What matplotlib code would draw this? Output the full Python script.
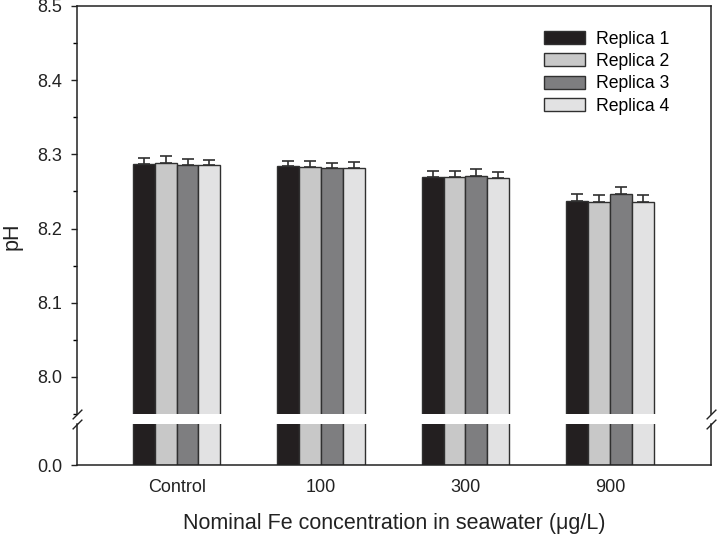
import numpy as np
import matplotlib.pyplot as plt

plt.rcParams['font.family'] = ['Liberation Sans', 'DejaVu Sans']

# Data
categories = ['Control', '100', '300', '900']
replicas = ['Replica 1', 'Replica 2', 'Replica 3', 'Replica 4']
r1 = [8.287, 8.284, 8.270, 8.237]
r2 = [8.289, 8.283, 8.270, 8.236]
r3 = [8.286, 8.281, 8.271, 8.246]
r4 = [8.285, 8.282, 8.268, 8.236]
e1 = [0.008, 0.007, 0.008, 0.010]
e2 = [0.009, 0.008, 0.008, 0.009]
e3 = [0.008, 0.007, 0.009, 0.010]
e4 = [0.008, 0.008, 0.008, 0.009]

values = [r1, r2, r3, r4]
errors = [e1, e2, e3, e4]
colors = ['#231f20', '#c8c8c8', '#7e7e80', '#e2e2e3']
edge = '#303030'

fig = plt.figure(figsize=(7.17, 5.37), dpi=100)
left, right = 77 / 717, 711 / 717
ax_top = fig.add_axes([left, 1 - 414 / 537, right - left, (414 - 6) / 537])
ax_bot = fig.add_axes([left, 1 - 465 / 537, right - left, (465 - 424) / 537])

x = np.arange(len(categories))
width = 0.151
for i, (vals, errs) in enumerate(zip(values, errors)):
    pos = x + (i - 1.5) * width
    for ax in (ax_top, ax_bot):
        ax.bar(pos, vals, width, color=colors[i], edgecolor=edge, linewidth=1.0,
               label=replicas[i], zorder=2)
    ax_top.errorbar(pos, vals, yerr=[np.zeros(len(errs)), errs], fmt='none',
                    ecolor=edge, elinewidth=1.2, capsize=4.5, capthick=1.2, zorder=1)

for ax in (ax_top, ax_bot):
    ax.set_xlim(-0.69, 3.70)
    for s in ax.spines.values():
        s.set_linewidth(1.1)
        s.set_color('#222222')
    ax.tick_params(axis='y', direction='out', length=4.5, width=1.0, pad=6, labelsize=13,
                   colors='#222222')
    ax.tick_params(axis='y', which='minor', direction='out', length=3, width=1.0)

ax_top.set_ylim(7.96, 8.5)
ax_top.set_yticks([8.0, 8.1, 8.2, 8.3, 8.4, 8.5])
ax_top.set_yticks(np.arange(7.95, 8.5, 0.05), minor=True)
ax_top.set_yticklabels(['8.0', '8.1', '8.2', '8.3', '8.4', '8.5'])
ax_top.spines['bottom'].set_visible(False)
ax_top.set_xticks([])

ax_bot.set_ylim(0, 0.5)
ax_bot.set_yticks([0.0])
ax_bot.set_yticklabels(['0.0'])
ax_bot.spines['top'].set_visible(False)
ax_bot.set_xticks(x)
ax_bot.set_xticklabels(categories)
ax_bot.tick_params(axis='x', length=0, pad=10, labelsize=13, colors='#222222')

# break marks
kw = dict(marker=[(-1, -1), (1, 1)], markersize=7, linestyle='none',
          color='#222222', mec='#222222', mew=1.0, clip_on=False)
ax_top.plot([0, 1], [0, 0], transform=ax_top.transAxes, **kw)
ax_bot.plot([0, 1], [1, 1], transform=ax_bot.transAxes, **kw)

leg = ax_top.legend(loc='upper right', bbox_to_anchor=(678 / 717, 1 - 22 / 537),
                    bbox_transform=fig.transFigure, frameon=False, fontsize=12.7,
                    handlelength=2.35, handleheight=0.75, handletextpad=0.6,
                    labelspacing=0.3, borderpad=0)

fig.text(0.017, 1 - 236 / 537, 'pH', rotation=90, ha='center', va='center',
         fontsize=15.5, color='#222222')
fig.text(394 / 717, 1 - 523 / 537, 'Nominal Fe concentration in seawater (\u03bcg/L)',
         ha='center', va='center', fontsize=15.5, color='#222222')

fig.savefig('out.png', dpi=100)
